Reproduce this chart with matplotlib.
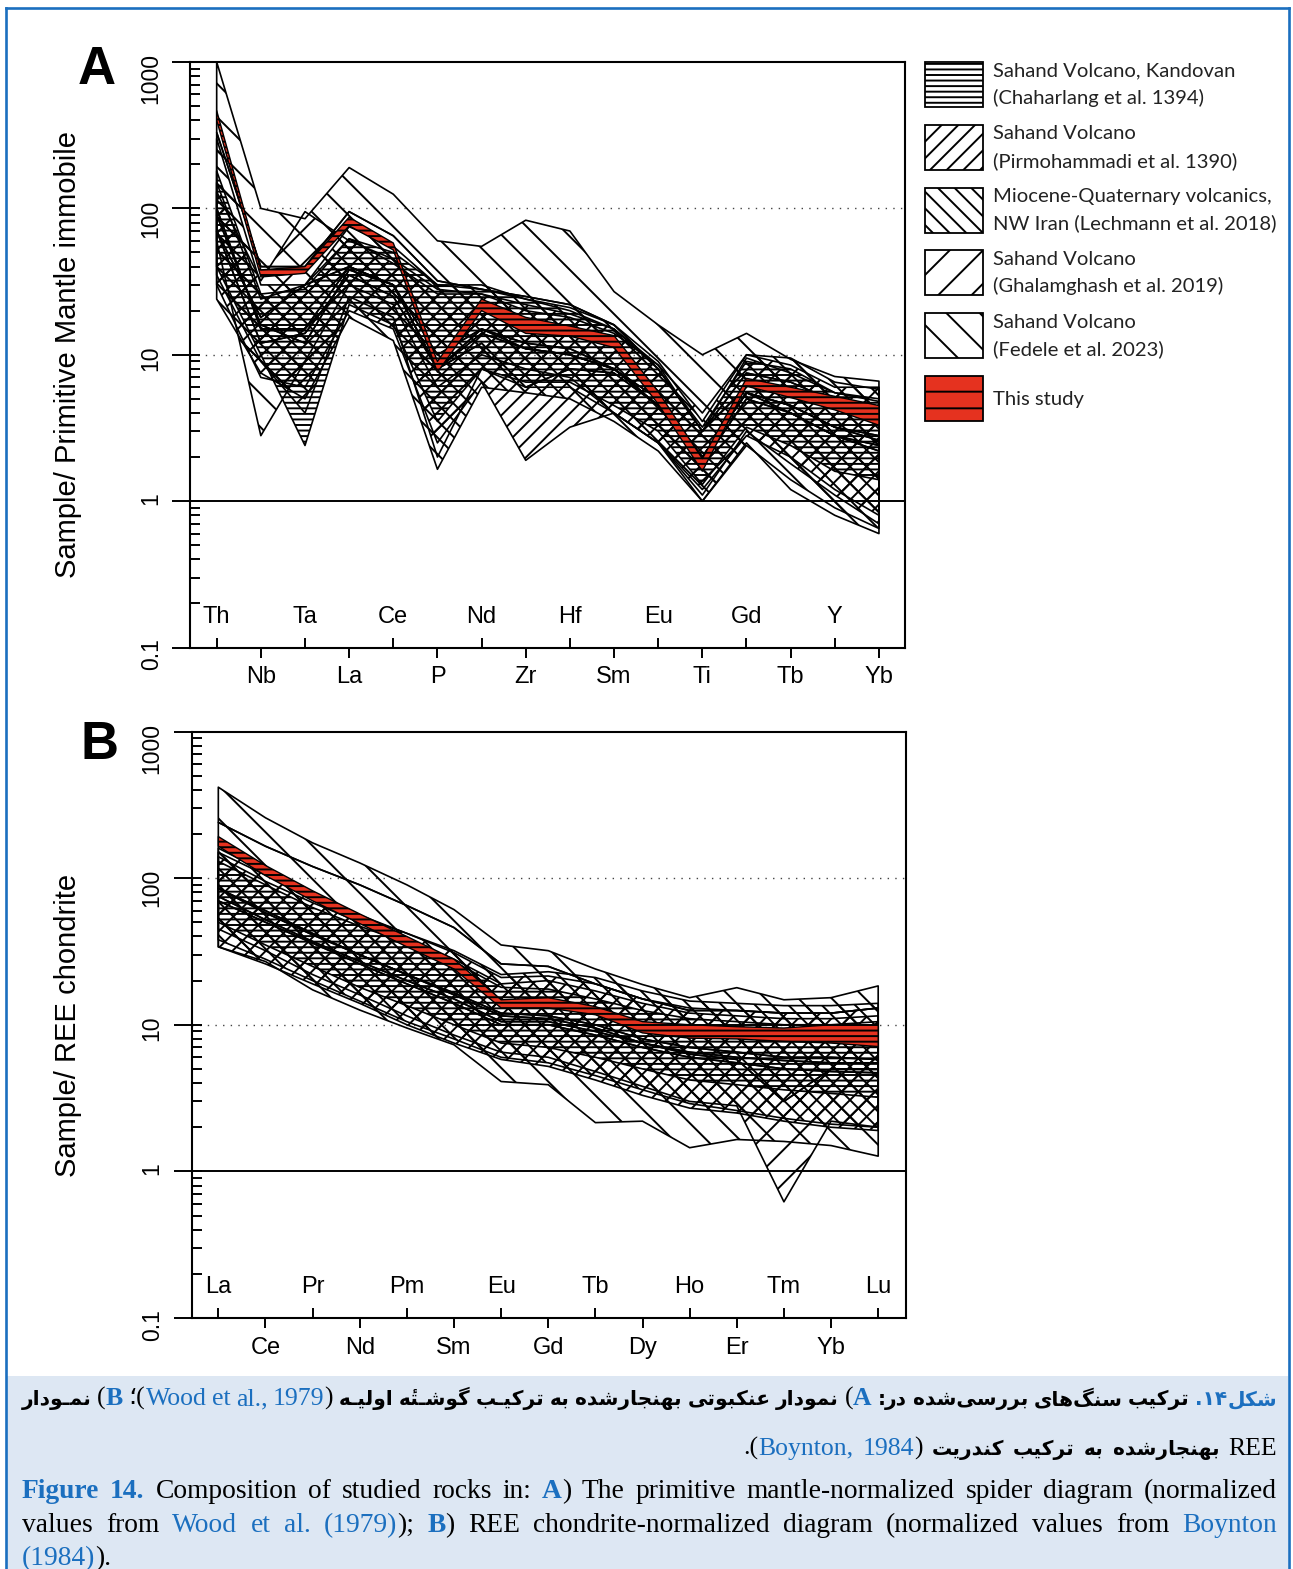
import numpy as np
import matplotlib
matplotlib.use('Agg')
import matplotlib.pyplot as plt
from matplotlib.patches import Rectangle
from matplotlib.lines import Line2D
from matplotlib.ticker import FixedLocator, FixedFormatter, LogLocator, NullFormatter

W, H, DPI = 1293, 1569, 100
BLUE = '#1b6fbf'
RED = '#e5321f'

# ---------------- spider diagram, primitive mantle (immobile) ----------------
pm_elements = ['Th', 'Nb', 'Ta', 'La', 'Ce', 'P', 'Nd', 'Zr',
               'Hf', 'Sm', 'Eu', 'Ti', 'Gd', 'Tb', 'Y', 'Yb']

pm_fedele_lo = [60, 2.8, 9, 30, 22, 6, 10, 8, 7, 4, 2.5, 1.0, 2.5, 1.2, 0.8, 0.6]
pm_fedele_mid = [330, 40, 40, 95, 65, 32, 28, 25, 22, 16, 8, 3, 7.5, 6.5, 4.8, 4.2]
pm_fedele_hi = [1000, 100, 85, 190, 125, 60, 55, 83, 70, 27, 16, 10, 14, 9.3, 7.1, 6.6]

pm_ghal_lo = [35, 9, 4, 25, 18, 2, 8, 6, 6, 4, 2.5, 1.1, 3, 1.8, 1.1, 0.7]
pm_ghal_mid = [70, 18, 30, 40, 30, 8, 14, 11, 10, 8, 4.5, 2, 5.5, 4, 2.8, 2.4]
pm_ghal_hi = [130, 32, 95, 60, 45, 28, 26, 22, 19, 15, 8.5, 4, 10, 8.5, 6, 6]

pm_lech_lo = [24, 7.5, 5, 18, 12.5, 1.65, 6, 5.5, 5, 3.5, 2.2, 1.0, 2.4, 1.4, 0.9, 0.65]
pm_lech_mid = [100, 15, 15, 40, 30, 8, 15, 11, 10, 8, 4.5, 2, 5.5, 4.5, 3.2, 2.6]
pm_lech_hi = [300, 30, 30, 75, 55, 30, 30, 24, 21, 16, 9, 3.5, 10, 9.5, 6.5, 5.8]

pm_pirmo_lo = [30, 7, 6, 20, 15, 2.5, 6.5, 1.9, 3.2, 4, 2.5, 1.2, 2.8, 2.0, 1.2, 0.8]
pm_pirmo_mid = [70, 12, 14, 35, 25, 8, 12, 6, 8, 7.5, 4.5, 1.8, 5, 4, 2.8, 2.2]
pm_pirmo_hi = [150, 24, 30, 62, 42, 26, 26, 20, 18, 14, 8.5, 3, 9.5, 7.5, 5.5, 4.8]

pm_chah_lo = [40, 10, 2.4, 22, 16, 3.5, 8, 6.5, 6.5, 4.5, 3, 1.3, 3.2, 2.4, 1.6, 1.4]
pm_chah_mid = [90, 16, 12, 38, 30, 10, 15, 12, 11, 8, 5, 2, 5.5, 4.5, 3.2, 2.8]
pm_chah_hi = [180, 26, 28, 62, 50, 30, 28, 24, 20, 15, 8, 3.2, 9, 8, 5.5, 5]

pm_study_lo = [400, 34, 36, 76, 52, 7.6, 20, 14, 13.4, 11.2, 4.6, 1.6, 6.1, 5.1, 4.2, 3.3]
pm_study_hi = [465, 38, 40, 87, 58, 9.0, 24, 18, 15.7, 13.5, 5.6, 1.95, 6.9, 6.0, 5.2, 4.5]

# ---------------- REE chondrite-normalised ----------------
ree_elements = ['La', 'Ce', 'Pr', 'Nd', 'Pm', 'Sm', 'Eu', 'Gd',
                'Tb', 'Dy', 'Ho', 'Er', 'Tm', 'Yb', 'Lu']

ree_fedele_lo = [34, 27, 17.3, 12.6, 9.5, 7.3, 4.1, 3.9, 2.15, 2.2, 1.45, 1.65, 1.6, 1.5, 1.27]
ree_fedele_mid = [240, 165, 120, 90, 65, 46, 26, 25, 19, 15, 12.5, 12.5, 12, 12, 13]
ree_fedele_hi = [417, 258, 174, 127, 90, 61, 35, 32, 24, 18.8, 15.3, 17.9, 14.8, 15.3, 18.4]

ree_ghal_lo = [45, 32, 22, 16, 11.5, 8.5, 6.5, 6, 4.8, 3.8, 3, 2.8, 0.62, 2.2, 2.0]
ree_ghal_mid = [85, 60, 42, 30, 22, 16, 11.5, 11, 9.5, 7.5, 6.3, 5.8, 3, 5, 5]
ree_ghal_hi = [160, 110, 78, 56, 42, 31, 21, 21.5, 19, 15, 13, 12.5, 12, 12, 13]

ree_lech_lo = [38, 28, 20, 14.5, 10.5, 8, 6, 5.5, 4.5, 3.6, 2.9, 2.6, 2.3, 2.1, 2.0]
ree_lech_mid = [75, 52, 37, 27, 20, 15, 10.5, 10.5, 9, 7.5, 6.5, 6, 5.7, 5.5, 5.5]
ree_lech_hi = [150, 105, 75, 55, 42, 32, 22, 23, 21, 17, 14.5, 14, 13.5, 13.5, 14]

ree_pirmo_lo = [34, 26, 19, 14, 10, 7.5, 5.8, 5.2, 4.2, 3.3, 2.7, 2.5, 2.2, 2.0, 1.9]
ree_pirmo_mid = [70, 50, 36, 26, 19, 14, 10, 10, 8.5, 7, 6, 5.5, 5, 4.8, 4.7]
ree_pirmo_hi = [140, 95, 68, 50, 38, 28, 19, 20, 17, 14, 12, 11.5, 11, 11, 11.5]

ree_chah_lo = [50, 35, 25, 18, 13.5, 10, 7.5, 7, 6, 5, 4.2, 3.9, 3.6, 3.4, 3.2]
ree_chah_mid = [85, 58, 41, 30, 22, 16.5, 12, 11.5, 10, 8, 7, 6.5, 6, 6, 5.8]
ree_chah_hi = [130, 90, 63, 47, 36, 27, 18, 17.5, 15, 12.5, 11, 10.5, 10, 10, 10.5]

ree_study_lo = [165, 104, 70, 49, 34, 24, 13, 13, 11.7, 8.8, 8.1, 8.0, 7.7, 7.5, 7.1]
ree_study_hi = [192, 122, 82, 57, 40, 28, 14.8, 15.3, 13.3, 10.5, 10, 9.7, 9.5, 10, 10]

legend_labels = ['Sahand Volcano, Kandovan\n(Chaharlang et al. 1394)',
                 'Sahand Volcano\n(Pirmohammadi et al. 1390)',
                 'Miocene-Quaternary volcanics,\nNW Iran (Lechmann et al. 2018)',
                 'Sahand Volcano\n(Ghalamghash et al. 2019)',
                 'Sahand Volcano\n(Fedele et al. 2023)',
                 'This study']
legend_hatches = ['---', '//', '\\\\', '/', '\\', '-']

plt.rcParams['font.family'] = ['Liberation Sans', 'DejaVu Sans']
plt.rcParams['hatch.linewidth'] = 1.4

fig = plt.figure(figsize=(W / DPI, H / DPI), dpi=DPI)


def px_box(left, top, right, bottom):
    return [left / W, 1 - bottom / H, (right - left) / W, (bottom - top) / H]


def field(ax, bounds, hatch, face='none', z=2, lw=1.2):
    x = np.arange(len(bounds[0]))
    for lo, hi in zip(bounds[:-1], bounds[1:]):
        ax.fill_between(x, lo, hi, facecolor=face, edgecolor='black',
                        hatch=hatch, linewidth=lw, zorder=z)


def style_axes(ax, names, xlim):
    ax.set_yscale('log')
    ax.set_ylim(0.1, 1000)
    ax.set_xlim(*xlim)
    for s in ax.spines.values():
        s.set_linewidth(1.5)
    ax.axhline(1, color='black', lw=1.4, zorder=6)
    for v in (10, 100):
        ax.axhline(v, color='#444444', lw=1.0, ls=(0, (1, 4.5)), zorder=1)

    ax.yaxis.set_major_locator(FixedLocator([0.1, 1, 10, 100, 1000]))
    ax.yaxis.set_major_formatter(FixedFormatter(['0.1', '1', '10', '100', '1000']))
    ax.yaxis.set_minor_locator(LogLocator(base=10, subs=np.arange(1, 10), numticks=20))
    ax.yaxis.set_minor_formatter(NullFormatter())
    ax.yaxis.remove_overlapping_locs = False
    ax.tick_params(axis='y', which='major', direction='out', length=13, width=1.4,
                   pad=7, labelsize=16.5, labelrotation=90)
    ax.tick_params(axis='y', which='minor', direction='in', length=7, width=1.4)

    n = len(names)
    odd = np.arange(1, n, 2)
    even = np.arange(0, n, 2)
    ax.set_xticks(odd)
    ax.set_xticklabels([names[i] for i in odd])
    ax.set_xticks(even, minor=True)
    ax.tick_params(axis='x', which='major', direction='out', length=7.5, width=1.4,
                   pad=6, labelsize=17)
    ax.tick_params(axis='x', which='minor', direction='in', length=7.5, width=1.4)
    for i in even:
        ax.text(i, 0.042, names[i], transform=ax.get_xaxis_transform(),
                ha='center', va='baseline', fontsize=17)


def draw_panel(ax, names, xlim, fed, ghal, lech, pirmo, chah, study):
    field(ax, fed, '\\', z=2)
    field(ax, ghal, '/', z=2.1)
    field(ax, lech, '\\\\', z=2.2)
    field(ax, pirmo, '//', z=2.3)
    field(ax, chah, '---', z=2.4)
    field(ax, study, '---', face=RED, z=4, lw=1.0)
    style_axes(ax, names, xlim)


axA = fig.add_axes(px_box(190.5, 62, 905, 647.5))
draw_panel(axA, pm_elements, (-0.593, 15.59),
           [pm_fedele_lo, pm_fedele_mid, pm_fedele_hi],
           [pm_ghal_lo, pm_ghal_mid, pm_ghal_hi],
           [pm_lech_lo, pm_lech_mid, pm_lech_hi],
           [pm_pirmo_lo, pm_pirmo_mid, pm_pirmo_hi],
           [pm_chah_lo, pm_chah_mid, pm_chah_hi],
           [pm_study_lo, pm_study_hi])

axB = fig.add_axes(px_box(191.5, 731.5, 906, 1318))
draw_panel(axB, ree_elements, (-0.569, 14.59),
           [ree_fedele_lo, ree_fedele_mid, ree_fedele_hi],
           [ree_ghal_lo, ree_ghal_mid, ree_ghal_hi],
           [ree_lech_lo, ree_lech_mid, ree_lech_hi],
           [ree_pirmo_lo, ree_pirmo_mid, ree_pirmo_hi],
           [ree_chah_lo, ree_chah_mid, ree_chah_hi],
           [ree_study_lo, ree_study_hi])

# axis titles and panel letters
fig.text(68 / W, 1 - 355 / H, 'Sample/ Primitive Mantle immobile', rotation=90,
         ha='center', va='center', fontsize=21)
fig.text(68 / W, 1 - 1025 / H, 'Sample/ REE chondrite', rotation=90,
         ha='center', va='center', fontsize=21)
fig.text(97 / W, 1 - 70 / H, 'A', fontsize=38, weight='bold', ha='center', va='center')
fig.text(99 / W, 1 - 745 / H, 'B', fontsize=38, weight='bold', ha='center', va='center')

# legend
for k, (label, hatch) in enumerate(zip(legend_labels, legend_hatches)):
    top = 62 + k * 62.8
    face = RED if k == len(legend_labels) - 1 else 'white'
    fig.add_artist(Rectangle((925 / W, 1 - (top + 45) / H), 58 / W, 45 / H,
                             transform=fig.transFigure, facecolor=face,
                             edgecolor='black', hatch=hatch, lw=1.3))
    rows = label.split('\n')
    bases = [top + 14.5, top + 42] if len(rows) == 2 else [top + 28.5]
    for row, b in zip(rows, bases):
        fig.text(993 / W, 1 - b / H, row, ha='left', va='baseline',
                 fontsize=14.6, family='Lato', color='#222222')

# ---------------- caption ----------------
fig.add_artist(Rectangle((6 / W, 0), (1288 - 6) / W, 1 - 1376 / H,
                         transform=fig.transFigure, facecolor='#dde7f3',
                         edgecolor='none', zorder=0))
fig.add_artist(Line2D([5.5 / W, 5.5 / W], [0, 1 - 8 / H], color=BLUE, lw=1.9,
                      transform=fig.transFigure))
fig.add_artist(Line2D([1288.5 / W, 1288.5 / W], [0, 1 - 8 / H], color=BLUE, lw=1.9,
                      transform=fig.transFigure))
fig.add_artist(Line2D([5.5 / W, 1288.5 / W], [1 - 8 / H, 1 - 8 / H], color=BLUE, lw=1.9,
                      transform=fig.transFigure))

FORMS = {
    'ا': ('\uFE8D', '\uFE8E', None, None),
    'ب': ('\uFE8F', '\uFE90', '\uFE91', '\uFE92'),
    'ت': ('\uFE95', '\uFE96', '\uFE97', '\uFE98'),
    'ج': ('\uFE9D', '\uFE9E', '\uFE9F', '\uFEA0'),
    'د': ('\uFEA9', '\uFEAA', None, None),
    'ر': ('\uFEAD', '\uFEAE', None, None),
    'س': ('\uFEB1', '\uFEB2', '\uFEB3', '\uFEB4'),
    'ش': ('\uFEB5', '\uFEB6', '\uFEB7', '\uFEB8'),
    'ع': ('\uFEC9', '\uFECA', '\uFECB', '\uFECC'),
    'ل': ('\uFEDD', '\uFEDE', '\uFEDF', '\uFEE0'),
    'م': ('\uFEE1', '\uFEE2', '\uFEE3', '\uFEE4'),
    'ن': ('\uFEE5', '\uFEE6', '\uFEE7', '\uFEE8'),
    'ه': ('\uFEE9', '\uFEEA', '\uFEEB', '\uFEEC'),
    'و': ('\uFEED', '\uFEEE', None, None),
    '\u06A9': ('\uFB8E', '\uFB8F', '\uFB90', '\uFB91'),
    '\u06AF': ('\uFB92', '\uFB93', '\uFB94', '\uFB95'),
    '\u06CC': ('\uFBFC', '\uFBFD', '\uFBFE', '\uFBFF'),
}
TATWEEL = '\u0640'
MARKS = {'\u0654'}


def fa(word):
    """Shape a Persian word into presentation forms, in visual order."""
    word = word.replace('\u064A', '\u06CC').replace('\u0643', '\u06A9')
    chars = list(word)

    def dual(c):
        return c == TATWEEL or (c in FORMS and FORMS[c][2] is not None)

    def joins(c):
        return c == TATWEEL or c in FORMS

    clusters = []
    for i, c in enumerate(chars):
        if c in MARKS and clusters:
            clusters[-1] += c
            continue
        if c not in FORMS:
            if c != '\u200c':
                clusters.append(c)
            continue
        prev = chars[i - 1] if i > 0 else None
        nxt = chars[i + 1] if i + 1 < len(chars) else None
        jp = prev is not None and dual(prev)
        jn = nxt is not None and joins(nxt) and dual(c)
        iso, fin, ini, med = FORMS[c]
        clusters.append(med if (jp and jn) else fin if jp else ini if jn else iso)
    return ''.join(reversed(clusters))


FA = dict(family=['DejaVu Sans'], fontsize=14.5, color='black', weight='bold')
FA_B = dict(FA, color=BLUE)
LAT = dict(family=['Liberation Serif', 'DejaVu Sans'], fontsize=19.8, color='black')
LAT_C = dict(LAT, color=BLUE)
LAT_B = dict(LAT, color=BLUE, weight='bold')
# latin runs inside the persian lines are set a little smaller
LF = dict(LAT, fontsize=18.5)
LF_C = dict(LF, color=BLUE)
LF_B = dict(LF, color=BLUE, weight='bold')

renderer = fig.canvas.get_renderer()


def set_line(words, baseline, x0, x1, align, space=7.0):
    placed = []
    for word in words:
        runs = []
        for txt, style in word:
            t = fig.text(0, 1 - baseline / H, txt, ha='left', va='baseline', **style)
            runs.append((t, t.get_window_extent(renderer).width))
        placed.append(runs)
    widths = [sum(w for _, w in runs) for runs in placed]
    total = sum(widths)
    if align == 'justify':
        gap = (x1 - x0 - total) / (len(words) - 1)
        x = x0
    else:
        gap = space
        x = x0 if align == 'left' else x1 - (total + gap * (len(words) - 1))
    for runs, w in zip(placed, widths):
        xx = x
        for t, tw in runs:
            t.set_x(xx / W)
            xx += tw
        x += w + gap


fa_line1 = [
    [(fa('نمـودار'), FA)],
    [('(', LF), ('B', LF_B)],
    [('؛(', LF), ('Wood', LF_C)], [('et', LF_C)], [('al.,', LF_C)],
    [('1979', LF_C), (')', LF)],
    [(fa('اولیـه'), FA)],
    [(fa('گوشـته\u0654'), FA)],
    [(fa('ترکیـب'), FA)],
    [(fa('به'), FA)],
    [(fa('بهنجارشده'), FA)],
    [(fa('عنکبوتی'), FA)],
    [(fa('نمودار'), FA)],
    [('(', LF), ('A', LF_B)],
    [(':', FA), (fa('در'), FA)],
    [(fa('بررسی\u200cشده'), FA)],
    [(fa('سنگ\u200cهای'), FA)],
    [(fa('ترکیب'), FA)],
    [('.۱۴', FA_B), (fa('شکل'), FA_B)],
]
fa_line2 = [
    [('.(', LF), ('Boynton,', LF_C)],
    [('1984', LF_C), (')', LF)],
    [(fa('کندریت'), FA)],
    [(fa('ترکیب'), FA)],
    [(fa('به'), FA)],
    [(fa('بهنجارشده'), FA)],
    [('REE', LF)],
]


def en(text, style=LAT):
    return [[(w, style)] for w in text.split()]


en_line1 = ([[('Figure', LAT_B)], [('14.', LAT_B)]]
            + en('Composition of studied rocks in:')
            + [[('A', LAT_B), (')', LAT)]]
            + en('The primitive mantle-normalized spider diagram (normalized'))
en_line2 = (en('values from') + en('Wood et al.', LAT_C)
            + [[('(1979)', LAT_C), (');', LAT)], [('B', LAT_B), (')', LAT)]]
            + en('REE chondrite-normalized diagram (normalized values from')
            + [[('Boynton', LAT_C)]])
en_line3 = [[('(1984)', LAT_C), (').', LAT)]]

set_line(fa_line1, 1405, 22, 1277, 'justify')
set_line(fa_line2, 1455, 22, 1277, 'right', space=9)
set_line(en_line1, 1498, 22, 1277, 'justify')
set_line(en_line2, 1532, 22, 1277, 'justify')
set_line(en_line3, 1565, 22, 1277, 'left')

fig.savefig('out.png', dpi=DPI)
